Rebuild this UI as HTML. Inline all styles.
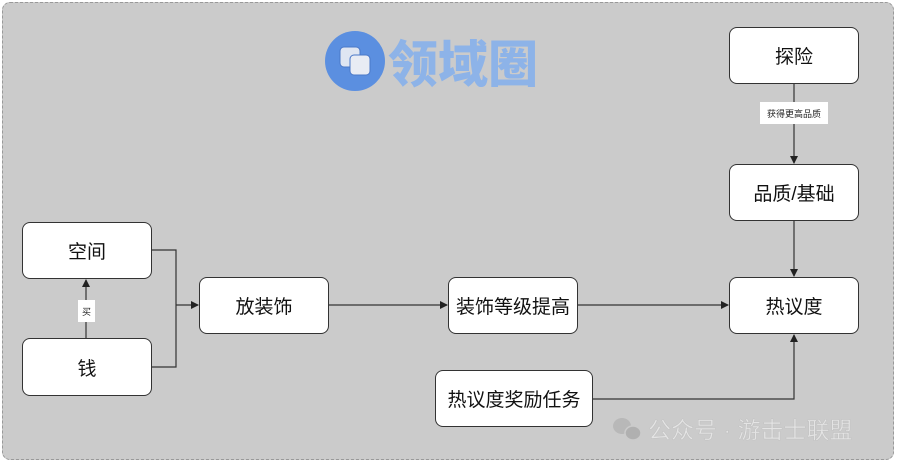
<!DOCTYPE html>
<html><head><meta charset="utf-8"><style>
body{margin:0;width:899px;height:465px;background:#fff;position:relative;overflow:hidden;font-family:"Liberation Sans","Noto Sans CJK SC",sans-serif}
.frame{position:absolute;left:2px;top:2px;width:892px;height:458px;background:#cbcbcb;border:1.5px dashed #999;border-radius:8px;box-sizing:border-box}
.b{position:absolute;background:#fff;border:1.2px solid #333;border-radius:8px;box-sizing:border-box;display:flex;align-items:center;justify-content:center;font-size:19px;color:#111}
.lbl{position:absolute;background:#fff;font-size:9px;color:#222;display:flex;align-items:center;justify-content:center}
</style></head><body>
<div class="frame"></div>
<svg width="899" height="465" style="position:absolute;left:0;top:0">
<defs><marker id="a" markerWidth="8" markerHeight="8" refX="7" refY="4" orient="auto" markerUnits="userSpaceOnUse"><path d="M0,0 L8,4 L0,8z" fill="#222"/></marker></defs>
<g stroke="#333" stroke-width="1.2" fill="none">
<path d="M86,338 V280" marker-end="url(#a)"/>
<path d="M152,250 H176 V367 H152"/>
<path d="M176,305 H198" marker-end="url(#a)"/>
<path d="M329,305 H447" marker-end="url(#a)"/>
<path d="M578,305 H728" marker-end="url(#a)"/>
<path d="M794,84 V163" marker-end="url(#a)"/>
<path d="M794,221 V276" marker-end="url(#a)"/>
<path d="M593,399 H794 V335" marker-end="url(#a)"/>
</g>
<circle cx="355" cy="61" r="30" fill="#5b8fe0"/>
<rect x="340" y="47" width="20" height="20" rx="4" fill="#dfe6f2" stroke="#4a78c8"/>
<rect x="350" y="55" width="20" height="20" rx="4" fill="#e8ecf4" stroke="#4a78c8"/>
<text x="388" y="82" font-size="50" font-weight="900" fill="#8db3e8" font-family="Noto Sans CJK SC,sans-serif">领域圈</text>
<ellipse cx="622" cy="426" rx="9" ry="8" fill="#b8b8b8"/>
<ellipse cx="633" cy="433" rx="8" ry="7" fill="#b0b0b0" stroke="#cbcbcb" stroke-width="1.5"/>
<text x="648" y="438" font-size="23" fill="#e4e4e4" stroke="#bdbdbd" stroke-width="0.4" font-family="Liberation Sans,Noto Sans CJK SC,sans-serif">公众号 · 游击士联盟</text>
</svg>
<div class="b" style="left:22px;top:222px;width:130px;height:57px">空间</div>
<div class="b" style="left:22px;top:338px;width:130px;height:58px">钱</div>
<div class="b" style="left:199px;top:277px;width:130px;height:57px">放装饰</div>
<div class="b" style="left:448px;top:277px;width:130px;height:57px">装饰等级提高</div>
<div class="b" style="left:729px;top:277px;width:130px;height:57px">热议度</div>
<div class="b" style="left:729px;top:27px;width:130px;height:57px">探险</div>
<div class="b" style="left:729px;top:164px;width:130px;height:57px">品质/基础</div>
<div class="b" style="left:435px;top:370px;width:158px;height:57px">热议度奖励任务</div>
<div class="lbl" style="left:78px;top:300px;width:17px;height:22px">买</div>
<div class="lbl" style="left:760px;top:102px;width:68px;height:22px">获得更高品质</div>
</body></html>
